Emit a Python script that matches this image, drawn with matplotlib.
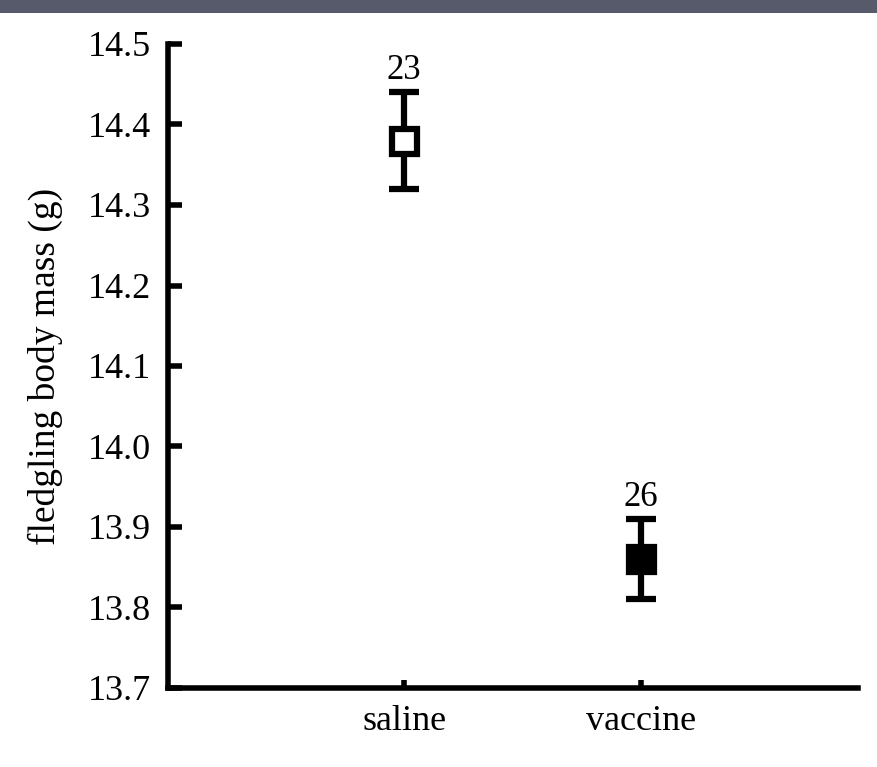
import matplotlib.pyplot as plt
from matplotlib.patches import Rectangle

# Data
groups = ['saline', 'vaccine']
means = [14.38, 13.86]
errors = [0.06, 0.05]
n_labels = ['23', '26']
face_colors = ['white', 'black']

plt.rcParams['font.family'] = ['Liberation Serif', 'DejaVu Serif']

fig = plt.figure(figsize=(8.77, 7.67), dpi=100)
ax = fig.add_axes([168 / 877, 1 - 688 / 767, (858 - 168) / 877, (688 - 44) / 767])

x = [1, 2]
for xi, m, e, fc, lab in zip(x, means, errors, face_colors, n_labels):
    ax.errorbar(xi, m, yerr=e, fmt='none', ecolor='black', elinewidth=4.5,
                capsize=11, capthick=4.5, zorder=2)
    ax.plot(xi, m, marker='s', markersize=18, markerfacecolor=fc,
            markeredgecolor='black', markeredgewidth=4.5, zorder=3)
    ax.text(xi, m + e + 0.006, lab, ha='center', va='bottom', fontsize=25)

ax.set_xlim(0, 2.92)
ax.set_ylim(13.7, 14.5)
ax.set_xticks(x)
ax.set_xticklabels(groups)
ax.set_yticks([13.7, 13.8, 13.9, 14.0, 14.1, 14.2, 14.3, 14.4, 14.5])
ax.set_yticklabels([f'{v:.1f}' for v in ax.get_yticks()])
ax.tick_params(axis='y', direction='in', length=10, width=4, labelsize=26, pad=12)
ax.tick_params(axis='x', direction='in', length=6, width=4, labelsize=26, pad=12)

for s in ['top', 'right']:
    ax.spines[s].set_visible(False)
for s in ['left', 'bottom']:
    ax.spines[s].set_linewidth(4)

ax.set_ylabel('fledgling body mass (g)', fontsize=27, labelpad=18)

# dark band at the top
fig.patches.append(Rectangle((0, 1 - 13 / 767), 1, 13 / 767, transform=fig.transFigure,
                             facecolor='#575a6a', edgecolor='none'))

fig.savefig('out.png', dpi=100)
